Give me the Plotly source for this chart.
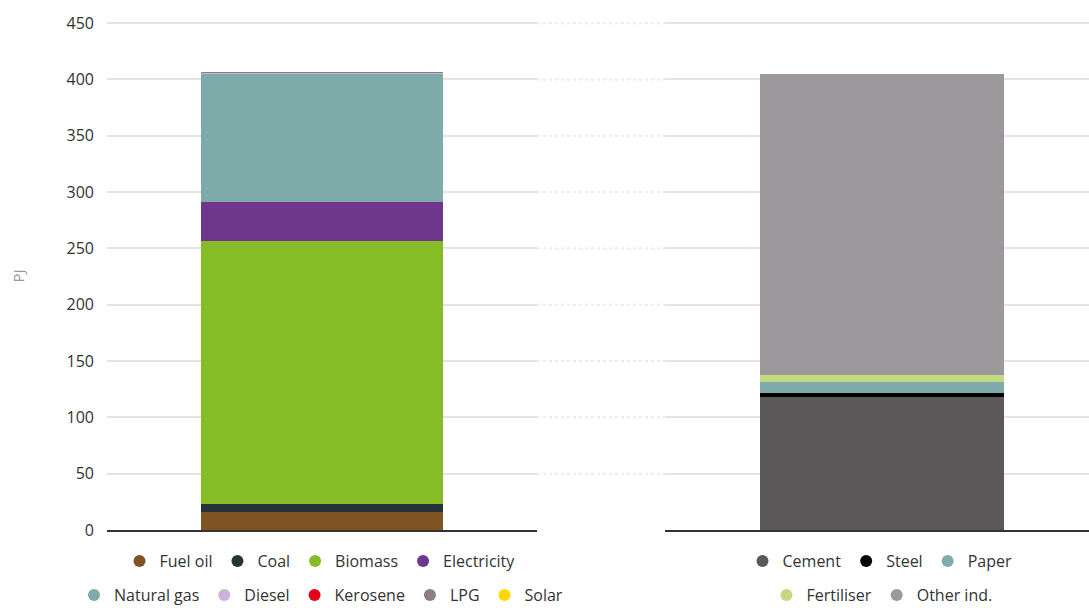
import plotly.graph_objects as go
from plotly.subplots import make_subplots

# ---- data ----
fuel_names = ["Fuel oil", "Coal", "Biomass", "Electricity", "Natural gas", "Diesel", "Kerosene", "LPG", "Solar"]
fuel_values = [16, 7, 234, 34, 114, 1, 0, 0.3, 0]
fuel_colors = ["#7f5422", "#263238", "#86bc25", "#6e368c", "#7faaaa", "#c9b3dc", "#e2001a", "#8c7f84", "#ffd700"]

ind_names = ["Cement", "Steel", "Paper", "Fertiliser", "Other ind."]
ind_values = [118, 4, 9, 7, 267]
ind_colors = ["#5a5859", "#000000", "#7fabab", "#c2d97f", "#9d989c"]

y_ticks = [0, 50, 100, 150, 200, 250, 300, 350, 400, 450]

# legend rows
fuel_rows = [fuel_names[:4], fuel_names[4:]]
ind_rows = [ind_names[:3], ind_names[3:]]

fig = make_subplots(rows=1, cols=2, horizontal_spacing=0.0)

for n, v, c in zip(fuel_names, fuel_values, fuel_colors):
    fig.add_trace(go.Bar(x=[0], y=[v], name=n, marker=dict(color=c, line=dict(width=0)),
                         width=0.565, showlegend=False), row=1, col=1)
for n, v, c in zip(ind_names, ind_values, ind_colors):
    fig.add_trace(go.Bar(x=[0], y=[v], name=n, marker=dict(color=c, line=dict(width=0)),
                         width=0.575, showlegend=False), row=1, col=2)

def add_legend_items(names, colors, legend_id):
    for n in names:
        fig.add_trace(go.Scatter(x=[None], y=[None], mode="markers", name=n,
                                 marker=dict(color=colors[n], size=12, symbol="circle"),
                                 legend=legend_id, showlegend=True), row=1, col=1)

fc = dict(zip(fuel_names, fuel_colors))
ic = dict(zip(ind_names, ind_colors))
add_legend_items(fuel_rows[0], fc, "legend")
add_legend_items(fuel_rows[1], fc, "legend2")
add_legend_items(ind_rows[0], ic, "legend3")
add_legend_items(ind_rows[1], ic, "legend4")

W, H = 1089, 608
left_dom = [107 / W, 537 / W]
right_dom = [665 / W, 1.0]

grid_col = "#e4e4e4"
FONT = "Open Sans, sans-serif"
axis_font = dict(family=FONT, size=16, color="#333333")

Y_TOP = 451
fig.update_layout(
    width=W, height=H,
    margin=dict(l=0, r=0, t=22, b=78),
    paper_bgcolor="white", plot_bgcolor="white",
    barmode="stack",
    font=axis_font,
    xaxis=dict(domain=left_dom, range=[-0.5, 0.5], showticklabels=False, showgrid=False,
               zeroline=False, showline=True, linecolor="#333333", linewidth=2, fixedrange=True),
    xaxis2=dict(domain=right_dom, range=[-0.512, 0.488], showticklabels=False, showgrid=False,
                zeroline=False, showline=True, linecolor="#333333", linewidth=2, fixedrange=True),
    yaxis=dict(range=[0, Y_TOP], tickvals=y_ticks, showgrid=True, gridcolor=grid_col, gridwidth=2,
               zeroline=False, showline=False, tickfont=axis_font, ticklabelstandoff=12,
               automargin=False),
    yaxis2=dict(range=[0, Y_TOP], tickvals=y_ticks, showgrid=True, gridcolor=grid_col, gridwidth=2,
                zeroline=False, showline=False, showticklabels=False, automargin=False),
    showlegend=True,
)

leg_common = dict(orientation="h", xanchor="center", yanchor="middle", xref="container", yref="container",
                  bgcolor="rgba(0,0,0,0)",
                  font=dict(family=FONT, size=16, color="#333333"),
                  itemsizing="constant", traceorder="normal", itemclick=False, itemdoubleclick=False)

def cy(p):
    return 1 - p / H

fig.update_layout(
    legend=dict(x=320 / W, y=cy(561), **leg_common),
    legend2=dict(x=321 / W, y=cy(595), **leg_common),
    legend3=dict(x=880 / W, y=cy(561), **leg_common),
    legend4=dict(x=882 / W, y=cy(595), **leg_common),
)

# dotted gridlines across the gap between the two panels
for t in y_ticks[1:]:
    fig.add_shape(type="line", xref="paper", yref="y", x0=537 / W, x1=665 / W, y0=t, y1=t,
                  line=dict(color="#ececec", width=2, dash="dot"))

# y axis title
fig.add_annotation(text="PJ", xref="paper", yref="y", x=18 / W, y=225, xanchor="center", yanchor="middle",
                   showarrow=False, textangle=-90,
                   font=dict(family=FONT, size=15, color="#999999"))

fig.write_html("out.html")
